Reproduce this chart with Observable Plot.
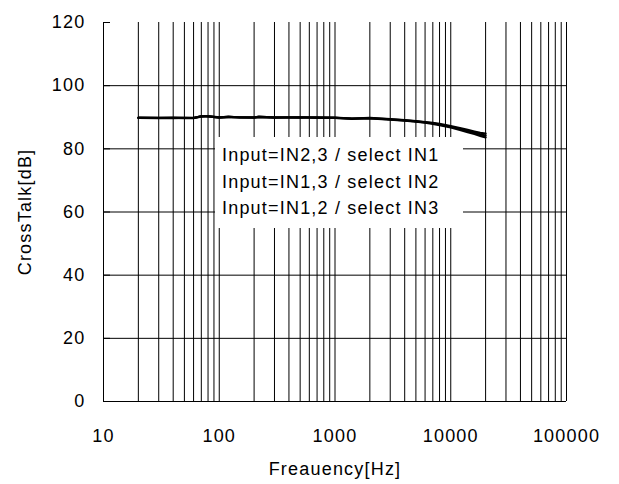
<!DOCTYPE html>
<html><head><meta charset="utf-8">
<script src="https://cdn.jsdelivr.net/npm/d3@7"></script>
<script src="https://cdn.jsdelivr.net/npm/@observablehq/plot@0.6"></script>
<style>
body{margin:0;background:#fff;}
#wrap{position:relative;width:619px;height:484px;}
#legend{position:absolute;left:215px;top:137px;width:248px;height:91px;background:#fff;font-family:"Liberation Sans",Arial,sans-serif;font-size:18px;letter-spacing:1.2px;color:#000;padding-top:5px;box-sizing:border-box;}
#legend div{padding-left:7px;line-height:26.5px;white-space:nowrap;}
</style></head>
<body>
<div id="wrap"><div id="chart"></div><div id="legend"></div></div>
<script>
const seriesNames = ["Input=IN2,3 / select IN1", "Input=IN1,3 / select IN2", "Input=IN1,2 / select IN3"];
const freqHz = [20, 30, 40, 50, 60, 70, 80, 100, 120, 150, 200, 220, 300, 500, 700, 1000, 1400, 2000, 3000, 4000, 5000, 6000, 7000, 8000, 10000, 12000, 14000, 16000, 18000, 20000];
const in1 = [89.8, 89.7, 89.8, 89.8, 89.7, 90.4, 90.3, 89.9, 90.2, 89.9, 89.9, 90.2, 89.9, 90.0, 89.9, 89.9, 89.6, 89.8, 89.4, 89.1, 88.8, 88.5, 88.2, 87.9, 87.2, 86.6, 86.0, 85.5, 85.1, 84.8];
const in2 = [89.9, 89.8, 89.9, 89.7, 89.8, 90.2, 90.4, 90.0, 90.1, 90.0, 90.0, 90.1, 90.0, 89.9, 90.0, 89.8, 89.5, 89.7, 89.3, 89.0, 88.7, 88.4, 88.1, 87.7, 87.0, 86.3, 85.7, 85.1, 84.6, 84.2];
const in3 = [89.8, 89.8, 89.7, 89.8, 89.8, 90.3, 90.3, 89.9, 90.0, 90.0, 89.9, 90.0, 89.9, 90.0, 89.8, 89.8, 89.6, 89.6, 89.2, 88.9, 88.6, 88.3, 87.9, 87.5, 86.8, 86.0, 85.3, 84.7, 84.1, 83.6];
const xTicks = [10, 100, 1000, 10000, 100000];
const yTicks = [0, 20, 40, 60, 80, 100, 120];
const yGrid = [20, 40, 60, 80, 100];

const data = freqHz.flatMap((f, i) => [
  {f, v: in1[i], s: seriesNames[0]},
  {f, v: in2[i], s: seriesNames[1]},
  {f, v: in3[i], s: seriesNames[2]}
]);
const xGrid = [10, 100, 1000, 10000].flatMap(d => d3.range(1, 10).map(k => k * d)).concat([100000]).filter(d => d > 10);

const chart = Plot.plot({
  width: 619, height: 484,
  marginLeft: 103, marginRight: 53, marginTop: 22, marginBottom: 83,
  style: {fontFamily: "Liberation Sans, Arial, sans-serif", fontSize: "18px", letterSpacing: "1.2px", color: "#000", background: "#fff"},
  x: {type: "log", domain: [10, 100000]},
  y: {domain: [0, 120]},
  marks: [
    Plot.ruleX(xGrid, {stroke: "#000", strokeWidth: 1}),
    Plot.ruleY(yGrid, {stroke: "#000", strokeWidth: 1}),
    Plot.ruleX([10], {stroke: "#000", strokeWidth: 1}),
    Plot.ruleY([0], {stroke: "#000", strokeWidth: 1}),
    Plot.line(data, {x: "f", y: "v", z: "s", stroke: "#000", strokeWidth: 2.2}),
    Plot.axisX({ticks: xTicks, tickFormat: d => String(d), tickSize: 0, tickPadding: 28,
      label: "Freauency[Hz]", labelAnchor: "center", labelOffset: 73, labelArrow: "none"}),
    Plot.axisY({ticks: yTicks, tickFormat: d => String(d), tickSize: 0, tickPadding: 18,
      label: "CrossTalk[dB]", labelAnchor: "center", labelOffset: 85, labelArrow: "none"}),
    Plot.axisY({ticks: yTicks, tickFormat: () => "", tickSize: -7, label: null, stroke: "#000"})
  ]
});
document.getElementById("chart").appendChild(chart);
const leg = document.getElementById("legend");
seriesNames.forEach(n => { const d = document.createElement("div"); d.textContent = n; leg.appendChild(d); });
</script>
</body></html>
